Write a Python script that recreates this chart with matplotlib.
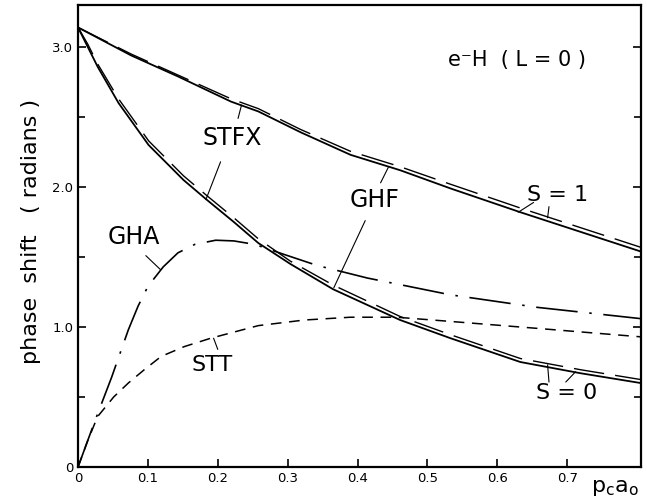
import matplotlib
matplotlib.use("Agg")
import matplotlib.pyplot as plt

# ---- data ----
x_s1 = [0, 0.076, 0.143, 0.219, 0.258, 0.319, 0.390, 0.461, 0.533, 0.633, 0.719, 0.805]
y_s1_solid = [3.14, 2.94, 2.79, 2.61, 2.54, 2.39, 2.23, 2.12, 1.99, 1.82, 1.68, 1.54]
y_s1_dashed = [3.14, 2.95, 2.80, 2.63, 2.56, 2.41, 2.255, 2.145, 2.02, 1.85, 1.71, 1.57]

x_s0 = [0, 0.014, 0.028, 0.058, 0.101, 0.151, 0.184, 0.223, 0.258, 0.304, 0.365, 0.461, 0.533, 0.633, 0.719, 0.805]
y_s0_solid = [3.14, 3.00, 2.86, 2.60, 2.30, 2.05, 1.91, 1.75, 1.60, 1.45, 1.27, 1.05, 0.92, 0.75, 0.67, 0.60]
y_s0_dashed = [3.14, 3.02, 2.88, 2.63, 2.33, 2.08, 1.94, 1.78, 1.63, 1.47, 1.30, 1.075, 0.945, 0.775, 0.695, 0.625]

x_gha = [0, 0.025, 0.048, 0.072, 0.086, 0.100, 0.122, 0.143, 0.167, 0.197, 0.223, 0.253, 0.294, 0.342, 0.414, 0.533, 0.658, 0.805]
y_gha = [0, 0.34, 0.64, 0.98, 1.15, 1.29, 1.43, 1.53, 1.59, 1.62, 1.615, 1.59, 1.52, 1.44, 1.35, 1.23, 1.14, 1.06]

x_stt = [0, 0.014, 0.028, 0.051, 0.072, 0.096, 0.119, 0.152, 0.190, 0.258, 0.324, 0.390, 0.456, 0.533, 0.658, 0.805]
y_stt = [0, 0.19, 0.36, 0.50, 0.60, 0.70, 0.79, 0.86, 0.92, 1.01, 1.05, 1.07, 1.07, 1.04, 0.99, 0.93]

x_ticks = [0, 0.1, 0.2, 0.3, 0.4, 0.5, 0.6, 0.7]
x_ticklabels = ["0", "0.1", "0.2", "0.3", "0.4", "0.5", "0.6", "0.7"]
y_ticks = [0, 1.0, 2.0, 3.0]
y_ticklabels = ["0", "1.0", "2.0", "3.0"]

# ---- figure ----
fig = plt.figure(figsize=(6.47, 5.04), dpi=100)
ax = fig.add_axes([0.1206, 0.0734, 0.990 - 0.1206, 0.990 - 0.0734])
ax.set_xlim(0, 0.805)
ax.set_ylim(0, 3.3)

k = "black"
ax.plot(x_s1, y_s1_solid, color=k, lw=1.3)
ax.plot(x_s1, y_s1_dashed, color=k, lw=1.0, dashes=(24, 8))
ax.plot(x_s0, y_s0_solid, color=k, lw=1.3)
ax.plot(x_s0, y_s0_dashed, color=k, lw=1.0, dashes=(22, 8))
ax.plot(x_gha, y_gha, color=k, lw=1.2, dashes=(25, 7, 1.5, 7))
ax.plot(x_stt, y_stt, color=k, lw=1.1, dashes=(7, 5))

# ticks
ax.set_xticks(x_ticks)
ax.set_xticklabels(x_ticklabels)
ax.set_yticks(y_ticks)
ax.set_yticklabels(y_ticklabels)
ax.set_yticks([0.5, 1.5, 2.5], minor=True)
ax.tick_params(axis="both", which="both", direction="in", labelsize=9.5, width=1.2)
ax.tick_params(axis="both", which="major", length=6)
ax.tick_params(axis="y", which="minor", length=5)
ax.tick_params(axis="y", which="both", right=True)
for s in ax.spines.values():
    s.set_linewidth(1.6)

# labels
tk = dict(color=k, ha="center", va="center")
ax.text(0.628, 2.91, "e\u207bH  ( L = 0 )", fontsize=15, **tk)
ax.text(0.221, 2.35, "STFX", fontsize=17, **tk)
ax.text(0.425, 1.91, "GHF", fontsize=17, **tk)
ax.text(0.080, 1.64, "GHA", fontsize=17, **tk)
ax.text(0.192, 0.73, "STT", fontsize=16, **tk)
ax.text(0.686, 1.94, "S = 1", fontsize=16, **tk)
ax.text(0.699, 0.53, "S = 0", fontsize=16, **tk)

fig.text(0.048, 0.54, "phase  shift   ( radians )", rotation=90, fontsize=16,
         ha="center", va="center", color=k)
ax.text(0.768, -0.15, r"$\mathregular{p_c a_o}$", fontsize=16, ha="center", va="center",
        color=k, clip_on=False)

# connector lines
lp = dict(arrowstyle="-", color=k, lw=0.8, shrinkA=0, shrinkB=0)
ax.annotate("", xy=(0.234, 2.586), xytext=(0.229, 2.49), arrowprops=lp)
ax.annotate("", xy=(0.183, 1.91), xytext=(0.204, 2.18), arrowprops=lp)
ax.annotate("", xy=(0.444, 2.14), xytext=(0.433, 2.03), arrowprops=lp)
ax.annotate("", xy=(0.366, 1.28), xytext=(0.411, 1.76), arrowprops=lp)
ax.annotate("", xy=(0.118, 1.41), xytext=(0.097, 1.51), arrowprops=lp)
ax.annotate("", xy=(0.194, 0.92), xytext=(0.200, 0.84), arrowprops=lp)
ax.annotate("", xy=(0.630, 1.82), xytext=(0.652, 1.89), arrowprops=lp)
ax.annotate("", xy=(0.672, 1.78), xytext=(0.674, 1.86), arrowprops=lp)
ax.annotate("", xy=(0.672, 0.73), xytext=(0.674, 0.607), arrowprops=lp)
ax.annotate("", xy=(0.712, 0.68), xytext=(0.698, 0.607), arrowprops=lp)

fig.savefig("out.png", dpi=100)
